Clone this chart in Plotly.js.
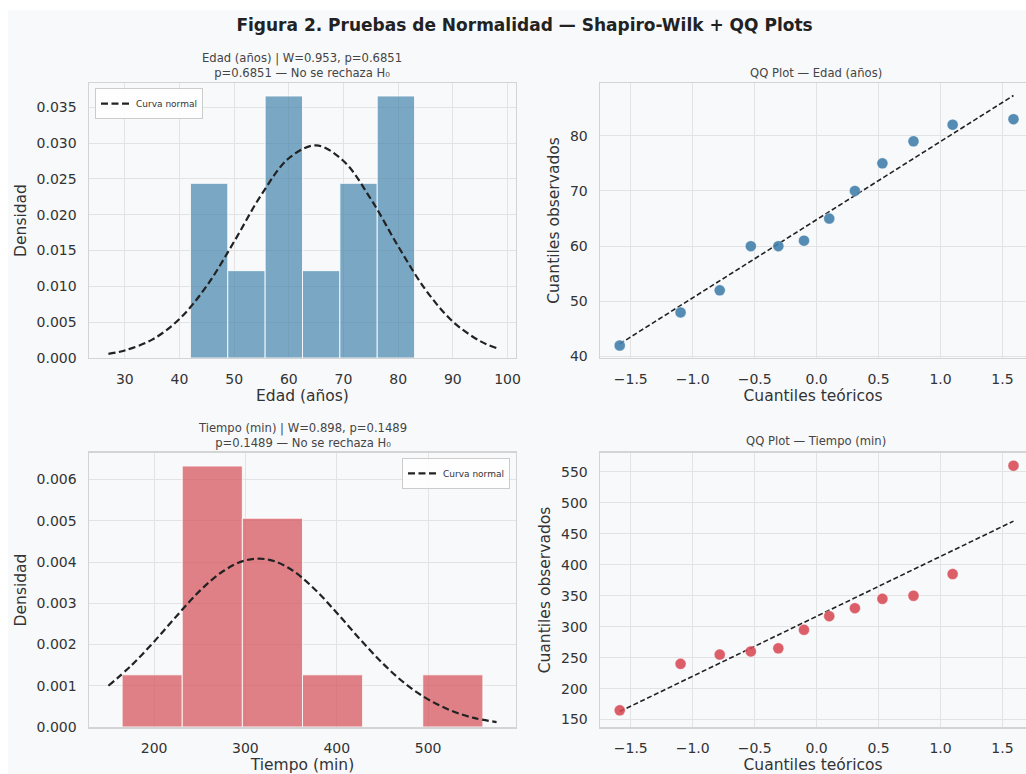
<!DOCTYPE html>
<html>
<head>
<meta charset="utf-8">
<script src="https://cdn.plot.ly/plotly-3.0.1.min.js"></script>
<style>
  html, body { margin: 0; padding: 0; background: #ffffff; }
  #chart { position: absolute; left: 8px; top: 10px; width: 1018px; height: 764px; }
</style>
</head>
<body>
<div id="chart"></div>
<script>
// ---- Data ----
const edadValues   = [42, 48, 52, 60, 60, 61, 65, 70, 75, 79, 82, 83];
const tiempoValues = [165, 240, 255, 260, 265, 295, 317, 330, 345, 350, 385, 560];
const theoQuantiles = [-1.589, -1.098, -0.782, -0.531, -0.309, -0.102, 0.102, 0.309, 0.531, 0.782, 1.098, 1.589];

// Normal curve (Curva normal)
const edadCurveX = [27, 30, 35, 40, 45, 50, 55, 60, 65, 70, 75, 80, 85, 90, 95, 98];
const edadCurveY = [0.00058, 0.00105, 0.00256, 0.00545, 0.01008, 0.01626, 0.02282, 0.02789, 0.02969, 0.02751, 0.02220, 0.01560, 0.00954, 0.00508, 0.00236, 0.00139];
const tiempoCurveX = [150, 175, 200, 225, 250, 275, 300, 325, 350, 375, 400, 425, 450, 475, 500, 525, 550, 575];
const tiempoCurveY = [0.00100, 0.00149, 0.00207, 0.00270, 0.00330, 0.00377, 0.00404, 0.00406, 0.00382, 0.00336, 0.00277, 0.00214, 0.00155, 0.00105, 0.00067, 0.00040, 0.00022, 0.00012];

// QQ reference lines (end points)
const edadLineX = [-1.589, 1.589];
const edadLineY = [42.3, 87.3];
const tiempoLineX = [-1.589, 1.589];
const tiempoLineY = [163, 470.5];

// Text
const mainTitle = 'Figura 2. Pruebas de Normalidad — Shapiro-Wilk + QQ Plots';
const edadHistTitle = 'Edad (años) | W=0.953, p=0.6851<br>p=0.6851 — No se rechaza H₀';
const tiempoHistTitle = 'Tiempo (min) | W=0.898, p=0.1489<br>p=0.1489 — No se rechaza H₀';
const edadQQTitle = 'QQ Plot — Edad (años)';
const tiempoQQTitle = 'QQ Plot — Tiempo (min)';

// ---- Styles ----
const FONT = 'DejaVu Sans, Verdana, sans-serif';
const BG = '#f8f9fb';
const GRID = '#e3e3e3';
const FRAME = '#d4d4d4';
const TXT = '#333333';
const SUB = 11.6;

const traces = [
  { type: 'histogram', x: edadValues, histnorm: 'probability density', autobinx: false,
    xbins: { start: 42, end: 83.01, size: 6.8334 },
    marker: { color: 'rgba(74,134,173,0.72)', line: { color: 'rgba(255,255,255,0.85)', width: 1 } },
    xaxis: 'x', yaxis: 'y', showlegend: false, hoverinfo: 'skip' },
  { type: 'scatter', mode: 'lines', x: edadCurveX, y: edadCurveY, name: 'Curva normal',
    line: { color: '#222222', width: 2.2, dash: '7px,3.5px', shape: 'spline' },
    xaxis: 'x', yaxis: 'y', legend: 'legend' },

  { type: 'scatter', mode: 'lines', x: edadLineX, y: edadLineY, showlegend: false,
    line: { color: '#222222', width: 1.6, dash: '5px,2.6px' }, xaxis: 'x2', yaxis: 'y2' },
  { type: 'scatter', mode: 'markers', x: theoQuantiles, y: edadValues, showlegend: false,
    marker: { color: 'rgba(66,128,172,0.9)', size: 11, line: { color: 'rgba(255,255,255,0.6)', width: 0.6 } },
    xaxis: 'x2', yaxis: 'y2' },

  { type: 'histogram', x: tiempoValues, histnorm: 'probability density', autobinx: false,
    xbins: { start: 165, end: 560.1, size: 65.834 },
    marker: { color: 'rgba(214,80,90,0.72)', line: { color: 'rgba(255,255,255,0.85)', width: 1 } },
    xaxis: 'x3', yaxis: 'y3', showlegend: false, hoverinfo: 'skip' },
  { type: 'scatter', mode: 'lines', x: tiempoCurveX, y: tiempoCurveY, name: 'Curva normal',
    line: { color: '#222222', width: 2.2, dash: '7px,3.5px', shape: 'spline' },
    xaxis: 'x3', yaxis: 'y3', legend: 'legend2' },

  { type: 'scatter', mode: 'lines', x: tiempoLineX, y: tiempoLineY, showlegend: false,
    line: { color: '#222222', width: 1.6, dash: '5px,2.6px' }, xaxis: 'x4', yaxis: 'y4' },
  { type: 'scatter', mode: 'markers', x: theoQuantiles, y: tiempoValues, showlegend: false,
    marker: { color: 'rgba(214,72,84,0.88)', size: 11, line: { color: 'rgba(255,255,255,0.6)', width: 0.6 } },
    xaxis: 'x4', yaxis: 'y4' }
];

function ax(extra) {
  return Object.assign({
    showgrid: true, gridcolor: GRID, gridwidth: 1,
    zeroline: false, showline: true, linecolor: FRAME, linewidth: 1.5, mirror: true,
    ticks: '', ticklabelstandoff: 8,
    tickfont: { family: FONT, size: 14, color: TXT },
    automargin: false
  }, extra);
}
function atitle(text, standoff) {
  return { text: text, standoff: standoff, font: { family: FONT, size: 15.5, color: TXT } };
}

const L = [0, 0.4557], R = [0.5454, 1];
const T = [0.5730, 1], B = [0, 0.4255];

const legendStyle = { bgcolor: 'rgba(255,255,255,0.85)', bordercolor: '#cccccc', borderwidth: 1,
                      font: { family: FONT, size: 9, color: TXT }, itemwidth: 30, tracegroupgap: 0 };

const layout = {
  width: 1018, height: 764,
  margin: { l: 81, r: 0, t: 73, b: 47 },
  paper_bgcolor: BG, plot_bgcolor: BG,
  font: { family: FONT, color: TXT },
  title: { text: '<b>' + mainTitle + '</b>', x: 0.5074, xref: 'container', xanchor: 'center',
           y: 0.9804, yref: 'container', yanchor: 'middle',
           font: { family: FONT, size: 17, color: '#222222' } },
  xaxis:  ax({ domain: L, anchor: 'y',  range: [23.45, 101.55], tickvals: [30,40,50,60,70,80,90,100], title: atitle('Edad (años)', 4) }),
  yaxis:  ax({ domain: T, anchor: 'x',  range: [0, 0.0384], tickvals: [0,0.005,0.01,0.015,0.02,0.025,0.03,0.035], tickformat: '.3f', title: atitle('Densidad', 6) }),
  xaxis2: ax({ domain: R, anchor: 'y2', range: [-1.748, 1.690], tickvals: [-1.5,-1,-0.5,0,0.5,1,1.5], tickformat: '.1f', title: atitle('Cuantiles teóricos', 4) }),
  yaxis2: ax({ domain: T, anchor: 'x2', range: [39.74, 89.56], tickvals: [40,50,60,70,80], mirror: false, title: atitle('Cuantiles observados', 6) }),
  xaxis3: ax({ domain: L, anchor: 'y3', range: [128.75, 596.25], tickvals: [200,300,400,500], title: atitle('Tiempo (min)', 4) }),
  yaxis3: ax({ domain: B, anchor: 'x3', range: [0, 0.006645], tickvals: [0,0.001,0.002,0.003,0.004,0.005,0.006], tickformat: '.3f', title: atitle('Densidad', 6) }),
  xaxis4: ax({ domain: R, anchor: 'y4', range: [-1.748, 1.690], tickvals: [-1.5,-1,-0.5,0,0.5,1,1.5], tickformat: '.1f', title: atitle('Cuantiles teóricos', 4) }),
  yaxis4: ax({ domain: B, anchor: 'x4', range: [138.0, 580.6], tickvals: [150,200,250,300,350,400,450,500,550], mirror: false, title: atitle('Cuantiles observados', 6) }),
  bargap: 0,
  legend:  Object.assign({ x: 0.0064, y: 0.992, xanchor: 'left',  yanchor: 'top' }, legendStyle),
  legend2: Object.assign({ x: 0.4493, y: 0.418, xanchor: 'right', yanchor: 'top' }, legendStyle),
  annotations: [
    { text: edadHistTitle, xref: 'paper', yref: 'paper', x: 0.2278, y: 1.0266, xanchor: 'center', yanchor: 'middle', showarrow: false, font: { family: FONT, size: SUB, color: '#444444' } },
    { text: edadQQTitle, xref: 'paper', yref: 'paper', x: 0.7759, y: 1.016, xanchor: 'center', yanchor: 'middle', showarrow: false, font: { family: FONT, size: SUB, color: '#444444' } },
    { text: tiempoHistTitle, xref: 'paper', yref: 'paper', x: 0.2278, y: 0.4534, xanchor: 'center', yanchor: 'middle', showarrow: false, font: { family: FONT, size: SUB, color: '#444444' } },
    { text: tiempoQQTitle, xref: 'paper', yref: 'paper', x: 0.7759, y: 0.4441, xanchor: 'center', yanchor: 'middle', showarrow: false, font: { family: FONT, size: SUB, color: '#444444' } }
  ]
};

Plotly.newPlot('chart', traces, layout, { displayModeBar: false, staticPlot: true });
</script>
</body>
</html>
